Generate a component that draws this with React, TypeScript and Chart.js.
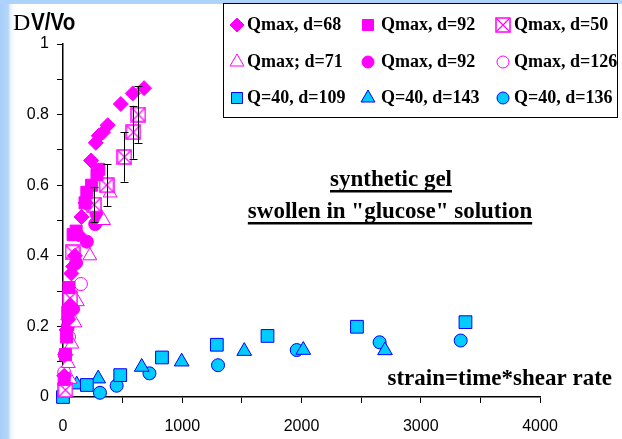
import React, { useEffect, useRef } from 'react';
import { Chart, registerables } from 'chart.js';

Chart.register(...registerables);

// ---------- data ----------
const xTickLabels = ['0', '1000', '2000', '3000', '4000'];
const yTickLabels = ['0', '0.2', '0.4', '0.6', '0.8', '1'];

// Qmax, d=68 (filled diamonds)
const d68X = [10, 20, 30, 45, 60, 70, 85, 100, 130, 155, 190, 235, 275, 300, 335, 375, 485, 585, 680];
const d68Y = [0.06, 0.12, 0.19, 0.22, 0.26, 0.35, 0.37, 0.4, 0.46, 0.51, 0.55, 0.67, 0.72, 0.74, 0.75, 0.77, 0.83, 0.86, 0.875];
// Qmax, d=92 (filled squares)
const sq92X = [10, 20, 30, 40, 50, 85, 110, 185, 200, 240, 285, 300];
const sq92Y = [0.05, 0.12, 0.17, 0.24, 0.31, 0.46, 0.47, 0.55, 0.58, 0.6, 0.63, 0.645];
// Qmax, d=50 (boxed X with error bars)
const bx50X = [20, 60, 80, 260, 365, 515, 590, 632];
const bx50Y = [0.02, 0.28, 0.41, 0.545, 0.6, 0.68, 0.75, 0.8];
const bx50Err = [0.01, 0.02, 0.03, 0.05, 0.06, 0.07, 0.075, 0.08];
// Qmax; d=71 (open triangles)
const tr71X = [45, 60, 75, 100, 120, 225, 340, 395];
const tr71Y = [0.095, 0.05, 0.15, 0.21, 0.27, 0.4, 0.5, 0.578];
// Qmax, d=92 (filled circles)
const ci92X = [15, 40, 70, 85, 110, 200, 270, 280];
const ci92Y = [0.12, 0.2, 0.25, 0.25, 0.38, 0.44, 0.49, 0.52];
// Qmax, d=126 (open circles)
const ci126X = [10, 50, 150];
const ci126Y = [0.07, 0.17, 0.32];
// Q=40, d=109 (cyan squares)
const q109X = [0, 200, 480, 830, 1290, 1715, 2465, 3375];
const q109Y = [0.0, 0.034, 0.062, 0.112, 0.148, 0.173, 0.199, 0.212];
// Q=40, d=143 (cyan triangles)
const q143X = [115, 295, 660, 995, 1520, 2015, 2700];
const q143Y = [0.035, 0.052, 0.085, 0.1, 0.13, 0.133, 0.132];
// Q=40, d=136 (cyan circles)
const q136X = [0, 310, 450, 725, 1300, 1960, 2655, 3335];
const q136Y = [0.005, 0.012, 0.032, 0.067, 0.09, 0.133, 0.155, 0.16];

const MAGENTA = '#ff00ff';
const CYAN = '#00ccff';
const BLUE = '#0000ff';

const zip = (xs: number[], ys: number[]) => xs.map((x, i) => ({ x, y: ys[i] }));

function makeBoxX(size: number): HTMLCanvasElement {
  const c = document.createElement('canvas');
  c.width = size;
  c.height = size;
  const g = c.getContext('2d')!;
  g.fillStyle = '#ffffff';
  g.fillRect(1, 1, size - 2, size - 2);
  g.strokeStyle = MAGENTA;
  g.lineWidth = 1.5;
  g.strokeRect(1, 1, size - 2, size - 2);
  g.lineWidth = 1.2;
  g.beginPath();
  g.moveTo(2, 2);
  g.lineTo(size - 2, size - 2);
  g.moveTo(size - 2, 2);
  g.lineTo(2, size - 2);
  g.stroke();
  return c;
}

type Marker = { shape: string; fill: string; stroke: string };

function drawMarker(ctx: CanvasRenderingContext2D, m: Marker, x: number, y: number, boxImg: HTMLCanvasElement) {
  ctx.save();
  ctx.fillStyle = m.fill;
  ctx.strokeStyle = m.stroke;
  ctx.lineWidth = 1;
  ctx.beginPath();
  if (m.shape === 'diamond') {
    const r = 7;
    ctx.moveTo(x, y - r); ctx.lineTo(x + r, y); ctx.lineTo(x, y + r); ctx.lineTo(x - r, y); ctx.closePath();
  } else if (m.shape === 'square') {
    const r = 5.5;
    ctx.rect(x - r, y - r, 2 * r, 2 * r);
  } else if (m.shape === 'triangle') {
    const r = 8;
    ctx.moveTo(x, y - r); ctx.lineTo(x + r * 0.866, y + r * 0.5); ctx.lineTo(x - r * 0.866, y + r * 0.5); ctx.closePath();
  } else if (m.shape === 'circle') {
    ctx.arc(x, y, 6, 0, Math.PI * 2);
  } else if (m.shape === 'boxx') {
    ctx.drawImage(boxImg, x - boxImg.width / 2, y - boxImg.height / 2);
    ctx.restore();
    return;
  }
  ctx.fill();
  ctx.stroke();
  ctx.restore();
}

export default function App() {
  const ref = useRef<HTMLCanvasElement>(null);

  useEffect(() => {
    const boxPoint = makeBoxX(16);
    const boxLegend = makeBoxX(16);

    const markers: Marker[] = [
      { shape: 'diamond', fill: MAGENTA, stroke: MAGENTA },
      { shape: 'square', fill: MAGENTA, stroke: MAGENTA },
      { shape: 'boxx', fill: '#fff', stroke: MAGENTA },
      { shape: 'triangle', fill: '#ffffff', stroke: MAGENTA },
      { shape: 'circle', fill: MAGENTA, stroke: MAGENTA },
      { shape: 'circle', fill: '#ffffff', stroke: MAGENTA },
      { shape: 'square', fill: CYAN, stroke: BLUE },
      { shape: 'triangle', fill: CYAN, stroke: BLUE },
      { shape: 'circle', fill: CYAN, stroke: BLUE },
    ];

    const decor = {
      id: 'decor',
      beforeDraw(chart: any) {
        const ctx = chart.ctx as CanvasRenderingContext2D;
        ctx.save();
        ctx.fillStyle = '#ffffff';
        ctx.fillRect(0, 0, chart.width, chart.height);
        const gl = ctx.createLinearGradient(0, 0, 18, 0);
        gl.addColorStop(0, '#a8cff9');
        gl.addColorStop(0.45, '#b4d6fa');
        gl.addColorStop(0.6, '#eef5fe');
        gl.addColorStop(1, 'rgba(255,255,255,0)');
        ctx.fillStyle = gl;
        ctx.fillRect(0, 0, 18, chart.height);
        ctx.fillStyle = '#aed3fb';
        ctx.fillRect(0, 0, chart.width, 4);
        ctx.restore();
      },
      afterDatasetsDraw(chart: any) {
        const ctx = chart.ctx as CanvasRenderingContext2D;
        const xs = chart.scales.x;
        const ys = chart.scales.y;
        ctx.save();
        ctx.strokeStyle = '#000000';
        ctx.lineWidth = 1;
        bx50X.forEach((xv, i) => {
          const e = bx50Err[i];
          if (e < 0.04) return;
          const px = Math.round(xs.getPixelForValue(xv)) + 0.5;
          const top = ys.getPixelForValue(bx50Y[i] + e);
          const bot = ys.getPixelForValue(bx50Y[i] - e);
          ctx.beginPath();
          ctx.moveTo(px, top); ctx.lineTo(px, bot);
          ctx.moveTo(px - 4, Math.round(top) + 0.5); ctx.lineTo(px + 4, Math.round(top) + 0.5);
          ctx.moveTo(px - 4, Math.round(bot) + 0.5); ctx.lineTo(px + 4, Math.round(bot) + 0.5);
          ctx.stroke();
        });
        ctx.restore();
      },
      afterDraw(chart: any) {
        const ctx = chart.ctx as CanvasRenderingContext2D;
        ctx.save();
        // axis title
        ctx.fillStyle = '#000';
        ctx.textBaseline = 'alphabetic';
        ctx.textAlign = 'left';
        ctx.font = '24px "Liberation Serif", serif';
        ctx.fillText('D', 13, 30);
        ctx.save();
        ctx.translate(31, 30);
        ctx.scale(0.86, 1);
        ctx.font = 'bold 24px "Liberation Sans", Arial, sans-serif';
        ctx.fillText('V/Vo', 0, 0);
        ctx.restore();

        // legend box
        ctx.fillStyle = '#ffffff';
        ctx.fillRect(223, 3, 395, 115);
        ctx.strokeStyle = '#000';
        ctx.lineWidth = 1;
        ctx.strokeRect(223.5, 3.5, 394, 114);
        const colMarker = [237, 368, 503];
        const colText = [247, 381, 514];
        const rowY = [24, 61, 97];
        ctx.font = 'bold 18px "Liberation Serif", "Times New Roman", serif';
        ctx.textBaseline = 'middle';
        chart.data.datasets.forEach((ds: any, i: number) => {
          const r = Math.floor(i / 3);
          const c = i % 3;
          drawMarker(ctx, markers[i], colMarker[c], rowY[r] + 1, boxLegend);
          ctx.fillStyle = '#000';
          ctx.fillText(ds.label, colText[c], rowY[r] + 1);
        });

        // annotations
        ctx.textBaseline = 'alphabetic';
        ctx.font = 'bold 23px "Liberation Serif", "Times New Roman", serif';
        const underlined = (t: string, cx: number, by: number) => {
          ctx.textAlign = 'center';
          ctx.fillText(t, cx, by);
          const w = ctx.measureText(t).width;
          ctx.fillRect(cx - w / 2, by + 4, w, 2.5);
        };
        underlined('synthetic gel', 391, 186);
        underlined('swollen in "glucose" solution', 390, 218);
        ctx.textAlign = 'right';
        ctx.fillText('strain=time*shear rate', 612, 385);
        ctx.restore();
      },
    };

    const magentaSet = (label: string, xs: number[], ys: number[], style: any, radius: number, bg: string) => ({
      label,
      data: zip(xs, ys),
      pointStyle: style,
      pointRadius: radius,
      pointHoverRadius: radius,
      backgroundColor: bg,
      borderColor: MAGENTA,
      pointBorderWidth: 1,
      showLine: false,
      clip: false as any,
    });
    const cyanSet = (label: string, xs: number[], ys: number[], style: string, radius: number) => ({
      label,
      data: zip(xs, ys),
      pointStyle: style,
      pointRadius: radius,
      pointHoverRadius: radius,
      backgroundColor: CYAN,
      borderColor: BLUE,
      pointBorderWidth: 1,
      showLine: false,
      clip: false as any,
    });

    const chart = new Chart(ref.current!, {
      type: 'scatter',
      data: {
        datasets: [
          magentaSet('Qmax, d=68', d68X, d68Y, 'rectRot', 7.5, MAGENTA),
          magentaSet('Qmax, d=92', sq92X, sq92Y, 'rect', 8.5, MAGENTA),
          magentaSet('Qmax, d=50', bx50X, bx50Y, boxPoint, 8, '#ffffff'),
          magentaSet('Qmax; d=71', tr71X, tr71Y, 'triangle', 8, '#ffffff'),
          magentaSet('Qmax, d=92', ci92X, ci92Y, 'circle', 6.5, MAGENTA),
          magentaSet('Qmax, d=126', ci126X, ci126Y, 'circle', 6.5, '#ffffff'),
          cyanSet('Q=40, d=109', q109X, q109Y, 'rect', 9),
          cyanSet('Q=40, d=143', q143X, q143Y, 'triangle', 8.5),
          cyanSet('Q=40, d=136', q136X, q136Y, 'circle', 6.5),
        ] as any,
      },
      options: {
        responsive: false,
        animation: false,
        events: [],
        layout: { padding: { left: 0, top: 44, right: 82, bottom: 0 } },
        plugins: {
          legend: { display: false },
          tooltip: { enabled: false },
          title: { display: false },
        },
        scales: {
          x: {
            type: 'linear',
            min: 0,
            max: 4000,
            afterFit: (s: any) => { s.height = 42; },
            ticks: {
              stepSize: 500,
              autoSkip: false,
              maxRotation: 0,
              color: '#000',
              padding: 14,
              font: { family: '"Liberation Sans", Arial, sans-serif', size: 16 },
              callback: (v: any) => (Number(v) % 1000 === 0 ? xTickLabels[Number(v) / 1000] : ''),
            },
            grid: { drawOnChartArea: false, drawTicks: true, tickLength: 6, color: '#000' },
            border: { display: true, color: '#000', width: 1.5 },
          },
          y: {
            type: 'linear',
            min: 0,
            max: 1,
            afterFit: (s: any) => { s.width = 63; },
            ticks: {
              stepSize: 0.1,
              autoSkip: false,
              color: '#000',
              padding: 8,
              font: { family: '"Liberation Sans", Arial, sans-serif', size: 16 },
              callback: (v: any) => {
                const k = Math.round(Number(v) * 10);
                return k % 2 === 0 ? yTickLabels[k / 2] : '';
              },
            },
            grid: { drawOnChartArea: false, drawTicks: true, tickLength: 6, color: '#000' },
            border: { display: true, color: '#000', width: 1.5 },
          },
        },
      },
      plugins: [decor],
    });
    return () => chart.destroy();
  }, []);

  return (
    <div style={{ position: 'fixed', left: 0, top: 0, width: 622, height: 439, background: '#fff' }}>
      <canvas ref={ref} width={622} height={439} style={{ display: 'block' }} />
    </div>
  );
}
